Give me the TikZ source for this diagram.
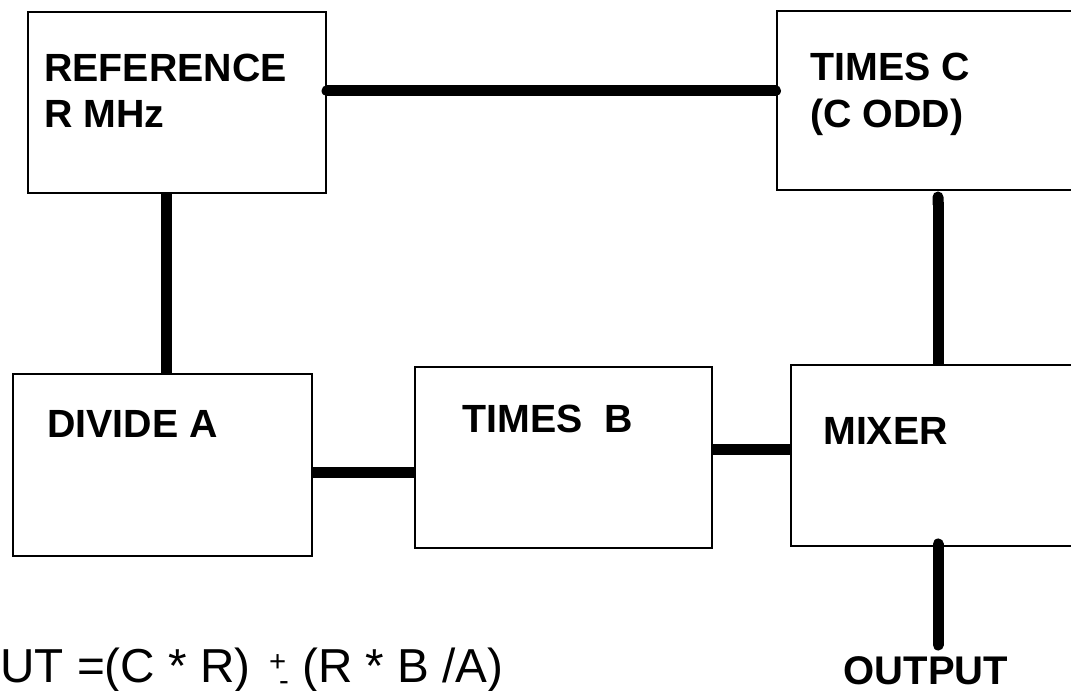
\documentclass[tikz,border=0pt]{standalone}
\usepackage{fontspec}
\setmainfont{Liberation Sans}
\usetikzlibrary{arrows.meta}
\begin{document}
\begin{tikzpicture}[x=0.75pt,y=-0.75pt,
  box/.style={draw, line width=1.5pt, inner sep=0pt},
  lbl/.style={anchor=base west, inner sep=0pt, font=\bfseries\fontsize{29.5}{34}\selectfont},
  wire/.style={line width=8.25pt}]
\clip (0,0) rectangle (1071,691);
% boxes
\node[box, minimum width=223.5pt, minimum height=135.4pt] (ref) at (177,102.75) {};
\node[box, minimum width=224.6pt, minimum height=134.6pt] (timesc) at (926.25,100.75) {};
\node[box, minimum width=223.9pt, minimum height=136.5pt] (divide) at (162.75,465) {};
\node[box, minimum width=223.1pt, minimum height=135.75pt] (timesb) at (563.75,457.5) {};
\node[box, minimum width=213.4pt, minimum height=135.4pt] (mixer) at (933.75,455.25) {};
% labels
\node[lbl] (ref1) at (44,82) {REFERENCE};
\node[lbl] (ref2) at (44,128) {R MHz};
\node[lbl] (tc1) at (810,80.5) {TIMES C};
\node[lbl] (tc2) at (810,128) {(C ODD)};
\node[lbl] (dv) at (47,438) {DIVIDE A};
\node[lbl] (tb) at (462,433) {TIMES\ \ B};
\node[lbl] (mx) at (823,445) {MIXER};
\node[anchor=base, inner sep=0pt, font=\bfseries\fontsize{30}{34}\selectfont] (out) at (926,684) {OUTPUT};
\node[anchor=base west, inner sep=0pt, font=\fontsize{35.75}{40}\selectfont] (eq) at (0,682)
  {UT =(C * R)\hspace{14pt}\rlap{\raisebox{8pt}{\fontsize{22}{22}\selectfont +}}\hspace{7.5pt}\raisebox{-6pt}{\fontsize{22}{22}\selectfont -}\hspace{10pt}(R * B /A)};
% helper coordinates
\coordinate (h1) at (0,91);
\coordinate (v1) at (166,0);
\coordinate (h2) at (0,472.5);
\coordinate (h3) at (0,450);
\coordinate (v2) at (938,0);
\coordinate (outend) at (938,645);
% connectors
\draw[wire, line cap=round] (ref.east |- h1) -- (timesc.west |- h1);
\draw[wire] (ref.south -| v1) -- (divide.north -| v1);
\draw[wire] (divide.east |- h2) -- (timesb.west |- h2);
\draw[wire] (timesb.east |- h3) -- (mixer.west |- h3);
\draw[wire, {Round Cap[]}-] (timesc.south -| v2) -- (mixer.north -| v2);
\draw[wire, line cap=round] ([yshift=1.9pt]mixer.south -| v2) -- (outend);
\end{tikzpicture}
\end{document}
